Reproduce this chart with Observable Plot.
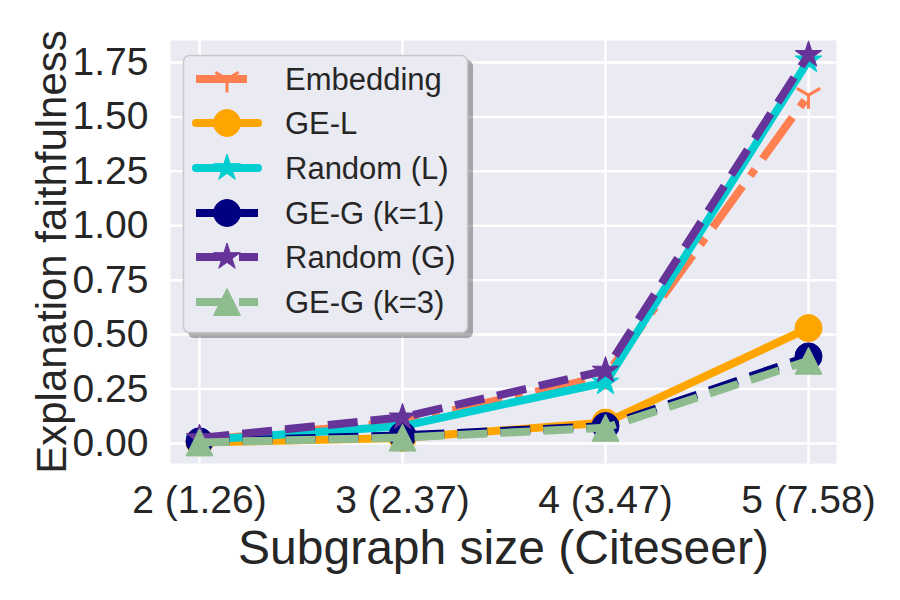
<!DOCTYPE html>
<html><head><meta charset="utf-8">
<script src="https://cdn.jsdelivr.net/npm/d3@7"></script>
<script src="https://cdn.jsdelivr.net/npm/@observablehq/plot@0.6"></script>
<style>
body{margin:0;background:#fff;}
#wrap{position:relative;width:900px;height:600px;font-family:"Liberation Sans",Arial,sans-serif;}
</style></head><body><div id="wrap"></div>
<script>
// ---- data ----
const categories = ["2 (1.26)", "3 (2.37)", "4 (3.47)", "5 (7.58)"];
const seriesNames = ["Embedding", "GE-L", "Random (L)", "GE-G (k=1)", "Random (G)", "GE-G (k=3)"];
const embedding = [0.015, 0.10, 0.31, 1.60];
const geL       = [0.005, 0.025, 0.096, 0.53];
const randomL   = [0.015, 0.08, 0.28, 1.76];
const geG1      = [0.01, 0.037, 0.08, 0.40];
const randomG   = [0.025, 0.12, 0.335, 1.785];
const geG3      = [0.005, 0.027, 0.072, 0.38];
const yTicks = [0, 0.25, 0.5, 0.75, 1.0, 1.25, 1.5, 1.75];
const xLabel = "Subgraph size (Citeseer)";
const yLabel = "Explanation faithfulness";

// ---- styles ----
const seriesValues = [embedding, geL, randomL, geG1, randomG, geG3];
const colors = ["#FF7F50", "#FFA500", "#00CED1", "#000080", "#663399", "#8FBC8F"];
const dashes = ["51,13,8,13", null, null, "30,13", "30,13", "30,13"];
const M = 27;
function circleSym(m){return {draw(c){const r=m/2;c.moveTo(r,0);c.arc(0,0,r,0,2*Math.PI);c.closePath();}};}
function starSym(m){return {draw(c){const R=m/2,ir=R*0.381966;for(let i=0;i<10;i++){const r=i%2?ir:R;const th=Math.PI/2+i*Math.PI/5;const x=r*Math.cos(th),y=-r*Math.sin(th);i?c.lineTo(x,y):c.moveTo(x,y);}c.closePath();}};}
function triUpSym(m){return {draw(c){const r=m/2;c.moveTo(0,-r);c.lineTo(-r,r);c.lineTo(r,r);c.closePath();}};}
function triDownSym(m){return {draw(c){const r=m/2;c.moveTo(0,0);c.lineTo(0,r);c.moveTo(0,0);c.lineTo(-r*0.866,-r*0.5);c.moveTo(0,0);c.lineTo(r*0.866,-r*0.5);}};}
const symbols = [triDownSym(M), circleSym(M), starSym(M+1), circleSym(M), starSym(M+1), triUpSym(M)];
const filled = [false, true, true, true, true, true];

const rows = seriesNames.map((name, i) => categories.map((c, j) => ({series: name, cat: c, value: seriesValues[i][j]})));

const marks = [
  Plot.frame({fill: "#EAEAF2", stroke: null}),
  Plot.gridX({stroke: "white", strokeOpacity: 1, strokeWidth: 2.5}),
  Plot.gridY(yTicks, {stroke: "white", strokeOpacity: 1, strokeWidth: 2.5}),
  Plot.axisY(yTicks, {tickSize: 0, tickPadding: 22, fontSize: 39, tickFormat: d3.format(".2f"), label: null}),
  Plot.axisX({tickSize: 0, tickPadding: 22, fontSize: 39, label: null})
];
rows.forEach((data, i) => {
  marks.push(Plot.line(data, {x: "cat", y: "value", stroke: colors[i], strokeWidth: 8,
    strokeDasharray: dashes[i] || undefined, strokeLinecap: dashes[i] ? "butt" : "round", strokeLinejoin: "round"}));
  marks.push(Plot.dot(data, {x: "cat", y: "value", r: 14, symbol: symbols[i],
    fill: filled[i] ? colors[i] : "none", stroke: colors[i], strokeWidth: filled[i] ? 1 : 3}));
});
marks.push(Plot.text([xLabel], {text: d => d, frameAnchor: "bottom", textAnchor: "middle", dy: 100, fontSize: 48, fill: "#262626"}));
marks.push(Plot.text([yLabel], {text: d => d, frameAnchor: "left", textAnchor: "middle", dx: -118, rotate: -90, fontSize: 42, fill: "#262626"}));

const chart = Plot.plot({
  width: 900, height: 600,
  marginLeft: 170, marginRight: 64, marginTop: 40, marginBottom: 137,
  x: {type: "point", domain: categories, padding: 0.135},
  y: {domain: [-0.092, 1.851]},
  style: {fontFamily: '"Liberation Sans", Arial, sans-serif', color: "#262626", background: "white", overflow: "visible"},
  marks
});
const wrap = document.getElementById("wrap");
wrap.appendChild(chart);

// ---- legend overlay ----
const leg = d3.select(wrap).append("svg").attr("width", 900).attr("height", 600)
  .style("position", "absolute").style("left", "0px").style("top", "0px");
leg.append("rect").attr("x", 188).attr("y", 60).attr("width", 285).attr("height", 278).attr("rx", 6)
  .attr("fill", "rgba(0,0,0,0.3)");
leg.append("rect").attr("x", 183.5).attr("y", 55.5).attr("width", 284).attr("height", 277).attr("rx", 6)
  .attr("fill", "#EAEAF2").attr("stroke", "#C8C8C8").attr("stroke-width", 1.5);
const rowY = [79, 123, 168, 213, 257, 302];
seriesNames.forEach((name, i) => {
  const y = rowY[i];
  leg.append("line").attr("x1", 196).attr("x2", 258).attr("y1", y).attr("y2", y)
    .attr("stroke", colors[i]).attr("stroke-width", 8)
    .attr("stroke-dasharray", dashes[i]).attr("stroke-linecap", dashes[i] ? "butt" : "round");
  const p = d3.path(); symbols[i].draw(p, 0);
  leg.append("path").attr("d", p.toString()).attr("transform", `translate(227,${y})`)
    .attr("fill", filled[i] ? colors[i] : "none").attr("stroke", colors[i]).attr("stroke-width", filled[i] ? 1 : 3);
  leg.append("text").attr("x", 285).attr("y", y + 11).attr("font-size", 31).attr("fill", "#262626")
    .attr("font-family", '"Liberation Sans", Arial, sans-serif').text(name);
});
</script></body></html>
